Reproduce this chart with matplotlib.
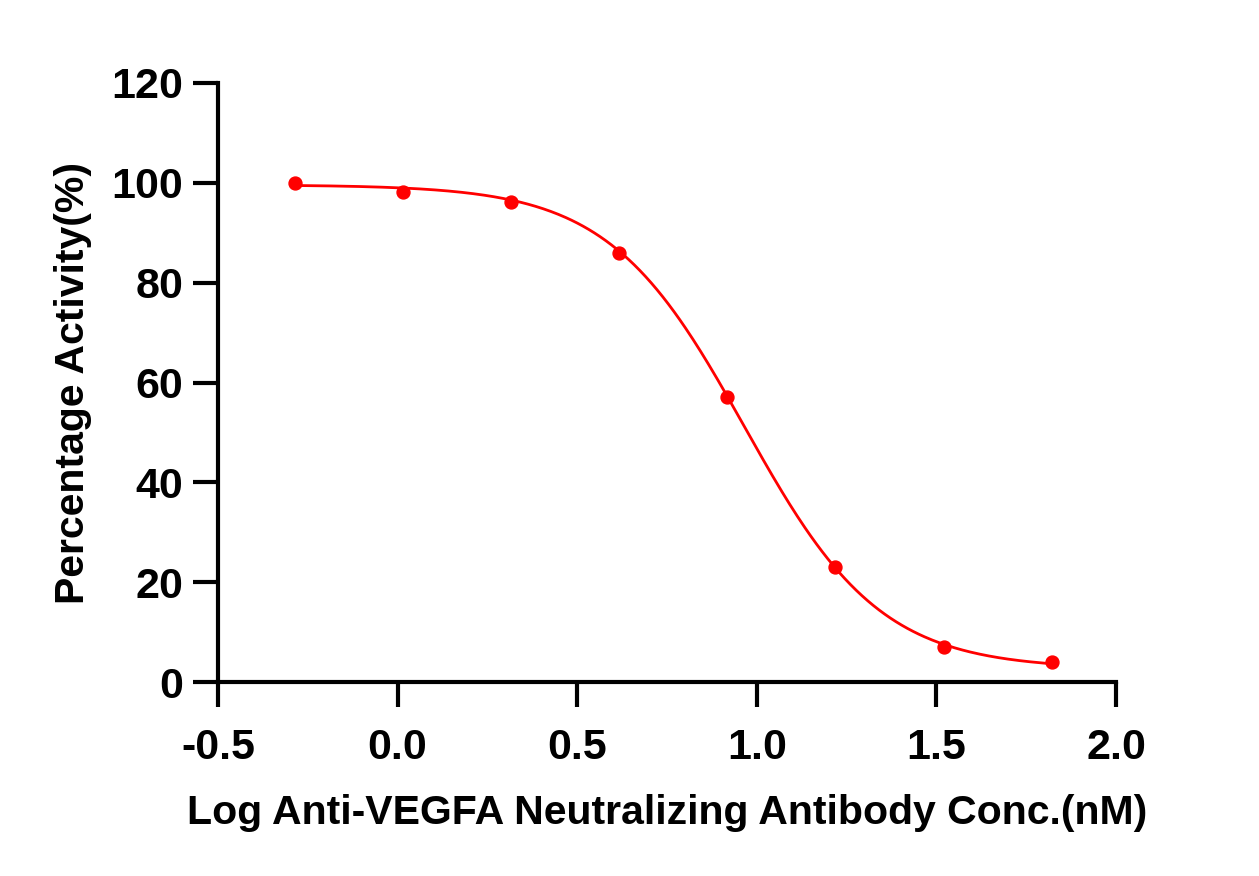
import matplotlib
matplotlib.use('Agg')
import matplotlib.pyplot as plt
import numpy as np

# Measured points: log concentration (nM) vs percentage activity
log_conc = [-0.287, 0.014, 0.316, 0.617, 0.918, 1.219, 1.520, 1.821]
activity = [100.0, 98.1, 96.2, 86.0, 57.1, 23.1, 7.1, 4.0]

# 4PL fit parameters
fit_top = 99.6
fit_bottom = 2.6
fit_logic50 = 0.966
fit_hill = 2.29

plt.rcParams['font.family'] = ['Liberation Sans', 'DejaVu Sans']
plt.rcParams['font.weight'] = 'bold'

fig = plt.figure(figsize=(12.59, 8.76), dpi=100)
ax = fig.add_axes([218/1259, 1 - 682/876, (1116-218)/1259, (682-83)/876])

xs = np.linspace(log_conc[0], log_conc[-1], 400)
ys = fit_bottom + (fit_top - fit_bottom)/(1 + 10**((xs - fit_logic50)*fit_hill))
ax.plot(xs, ys, color='#ff0000', lw=2)
ax.plot(log_conc, activity, 'o', color='#ff0000', ms=9.3, clip_on=False)

ax.set_xlim(-0.5, 2.0)
ax.set_ylim(0, 120)
ax.set_xticks([-0.5, 0.0, 0.5, 1.0, 1.5, 2.0])
ax.set_xticklabels(['-0.5', '0.0', '0.5', '1.0', '1.5', '2.0'])
ax.set_yticks([0, 20, 40, 60, 80, 100, 120])

for s in ['top', 'right']:
    ax.spines[s].set_visible(False)
for s in ['left', 'bottom']:
    ax.spines[s].set_linewidth(3)
ax.tick_params(width=3, length=18, labelsize=31)
ax.tick_params(axis='x', pad=15)
ax.tick_params(axis='y', pad=7)

ax.set_xlabel('Log Anti-VEGFA Neutralizing Antibody Conc.(nM)', fontsize=29.5,
              fontweight='bold', labelpad=19)
ax.set_ylabel('Percentage Activity(%)', fontsize=29.5, fontweight='bold',
              labelpad=14)

fig.savefig('out.png', dpi=100)
